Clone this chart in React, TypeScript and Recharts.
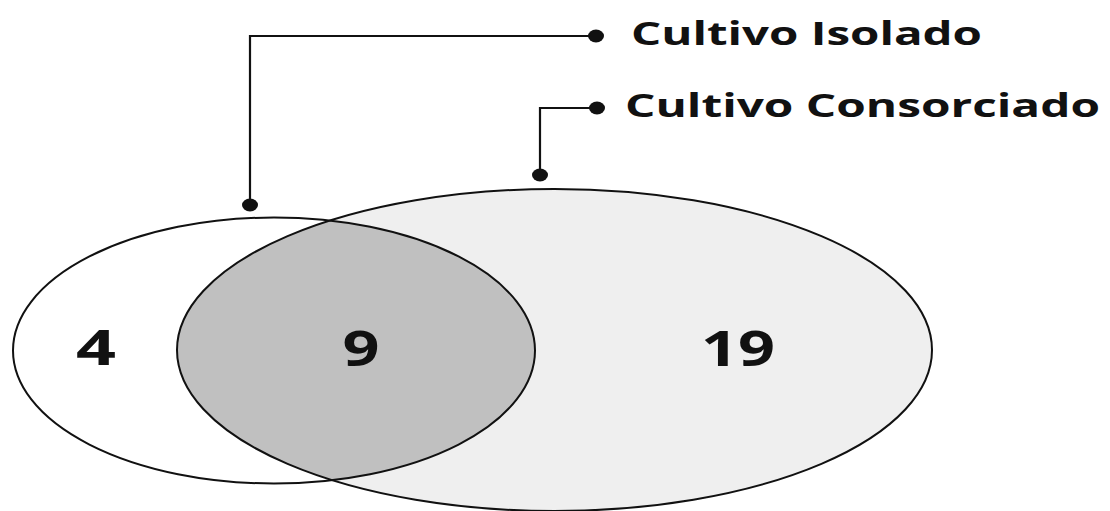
import { ComposedChart, XAxis, YAxis, Scatter, ReferenceArea } from "recharts";

const W = 1110;
const H = 511;

// the two sets, in chart units (x 0..1110, y 0..511 from the top)
const setNames = ["Cultivo Isolado", "Cultivo Consorciado"];
const setCx = [274, 554.5];
const setCy = [350.5, 350];
const setRx = [261, 377.5];
const setRy = [133, 161];

// counts: only Isolado / both / only Consorciado
const regionCounts = ["4", "9", "19"];
const regionX = [96, 361, 738];
const regionY = [365, 366, 366];
const regionWidth = [40, 37, 74];

// leader lines from each set up to its label
const leaderFootX = [250, 540];
const leaderFootY = [205, 175];
const leaderRowY = [36, 108];
const leaderEndX = [596, 597];
const labelX = [631, 625];
const labelY = [45, 117];
const labelWidth = [351, 475];

const INK = "#111";
const FONT = "'Open Sans', 'DejaVu Sans', sans-serif";

const leaders = setNames.map((_, i) => [
  { x: leaderFootX[i], y: leaderFootY[i], end: true },
  { x: leaderFootX[i], y: leaderRowY[i], end: false },
  { x: leaderEndX[i], y: leaderRowY[i], end: true },
]);

const labels = setNames.map((name, i) => ({
  x: labelX[i],
  y: labelY[i],
  name,
  len: labelWidth[i],
}));

const counts = regionCounts.map((c, i) => ({
  x: regionX[i],
  y: regionY[i],
  name: c,
  len: regionWidth[i],
}));

const geom = (p: any) => ({
  cx: p.x + p.width / 2,
  cy: p.y + p.height / 2,
  rx: Math.abs(p.width) / 2,
  ry: Math.abs(p.height) / 2,
});

const fillShape = (fill: string, clip?: string) => (p: any) => {
  const g = geom(p);
  return <ellipse {...g} fill={fill} stroke="none" clipPath={clip ? `url(#${clip})` : undefined} />;
};

const outlineShape = (p: any) => <ellipse {...geom(p)} fill="none" stroke={INK} strokeWidth={2} />;

// fill of the big set, also registers it as clip for the overlap
const bigSetShape = (p: any) => {
  const g = geom(p);
  return (
    <g>
      <defs>
        <clipPath id="venn-clip-b">
          <ellipse {...g} />
        </clipPath>
      </defs>
      <ellipse {...g} fill="#efefef" stroke="none" />
    </g>
  );
};

const area = (i: number) => ({
  x1: setCx[i] - setRx[i],
  x2: setCx[i] + setRx[i],
  y1: setCy[i] - setRy[i],
  y2: setCy[i] + setRy[i],
  ifOverflow: "visible" as const,
});

export default function App() {
  return (
    <div style={{ position: "absolute", left: 0, top: 0, width: W, height: H, background: "#fff" }}>
      <ComposedChart width={W} height={H} margin={{ top: 0, right: 0, bottom: 0, left: 0 }}>
        <XAxis type="number" dataKey="x" domain={[0, W]} hide allowDataOverflow />
        <YAxis type="number" dataKey="y" domain={[0, H]} reversed hide allowDataOverflow />

        <ReferenceArea {...area(1)} shape={bigSetShape} />
        <ReferenceArea {...area(0)} shape={fillShape("#ffffff")} />
        <ReferenceArea {...area(0)} shape={fillShape("#c0c0c0", "venn-clip-b")} />
        <ReferenceArea {...area(0)} shape={outlineShape} />
        <ReferenceArea {...area(1)} shape={outlineShape} />

        {leaders.map((d, i) => (
          <Scatter
            key={`leader-${i}`}
            data={d}
            isAnimationActive={false}
            line={{ stroke: INK, strokeWidth: 2.2 }}
            shape={(p: any) =>
              p.payload.end ? <ellipse cx={p.cx} cy={p.cy} rx={8} ry={6.5} fill={INK} /> : <g />
            }
          />
        ))}

        <Scatter
          data={labels}
          isAnimationActive={false}
          shape={(p: any) => (
            <text
              x={p.cx}
              y={p.cy}
              fontFamily={FONT}
              fontWeight="bold"
              fontSize={32}
              fill={INK}
              textLength={p.payload.len}
              lengthAdjust="spacingAndGlyphs"
            >
              {p.payload.name}
            </text>
          )}
        />

        <Scatter
          data={counts}
          isAnimationActive={false}
          shape={(p: any) => (
            <text
              x={p.cx}
              y={p.cy}
              textAnchor="middle"
              fontFamily={FONT}
              fontWeight="bold"
              fontSize={48}
              fill={INK}
              textLength={p.payload.len}
              lengthAdjust="spacingAndGlyphs"
            >
              {p.payload.name}
            </text>
          )}
        />
      </ComposedChart>
    </div>
  );
}
